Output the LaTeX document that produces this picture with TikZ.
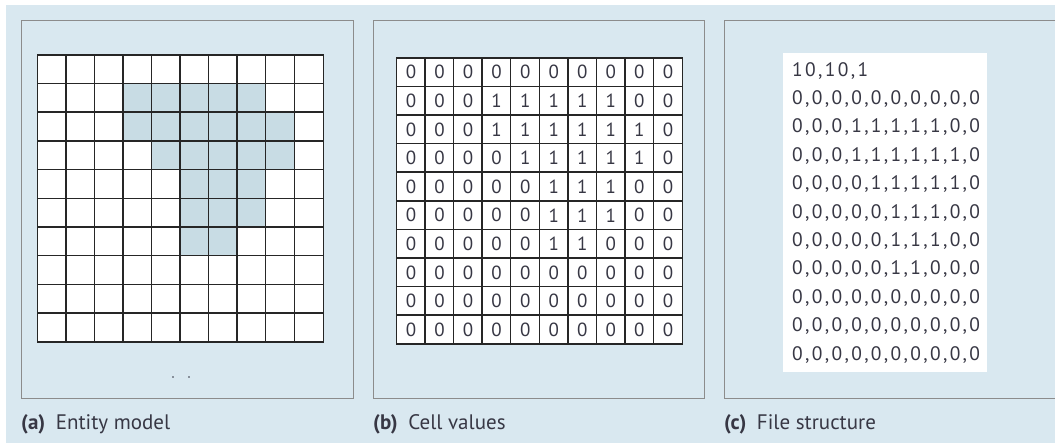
\documentclass[tikz,border=0pt]{standalone}
\usepackage{fontspec}
\setmainfont{PT Sans}
\newfontfamily\filefont[LetterSpace=12]{PT Sans}
\usepackage{tikz}
\definecolor{paneBack}{RGB}{217, 232, 240}
\definecolor{cellShade}{RGB}{200, 220, 228}
\definecolor{paneLine}{RGB}{140, 140, 140}
\definecolor{inkGrey}{RGB}{55, 55, 68}

\begin{document}
\begin{tikzpicture}[
    x=1pt, y=-1pt,
    panel/.style={draw=paneLine, line width=1pt, anchor=north west, inner sep=0pt},
    cellbox/.style={minimum size=28.6pt, inner sep=0pt,
        font=\fontsize{19}{19}\selectfont, text=inkGrey},
    gridline/.style={draw=black!85, line width=1.5pt, line cap=rect},
    v0/.style={fill=white},
    v1/.style={fill=cellShade},
    caption/.style={anchor=base west, inner sep=0pt, text=inkGrey, font=\fontsize{21}{21}\selectfont}
]
\useasboundingbox (0,0) rectangle (1055,443);
\fill[paneBack] (6,5) rectangle (1055,443);

% three panels
\node[panel, minimum width=332pt, minimum height=378pt] (boxA) at (21,20) {};
\node[panel, minimum width=331pt, minimum height=378pt] (boxB) at (373,20) {};
\node[panel, minimum width=340pt, minimum height=378pt] (boxC) at (724,20) {};

% (a) entity model and (b) cell values
\foreach \row [count=\r from 0] in {
    {0,0,0,0,0,0,0,0,0,0},
    {0,0,0,1,1,1,1,1,0,0},
    {0,0,0,1,1,1,1,1,1,0},
    {0,0,0,0,1,1,1,1,1,0},
    {0,0,0,0,0,1,1,1,0,0},
    {0,0,0,0,0,1,1,1,0,0},
    {0,0,0,0,0,1,1,0,0,0},
    {0,0,0,0,0,0,0,0,0,0},
    {0,0,0,0,0,0,0,0,0,0},
    {0,0,0,0,0,0,0,0,0,0}}
{
    \foreach \v [count=\c from 0] in \row {
        \node[cellbox, v\v] (a-\r-\c) at (51.8+28.55*\c, 69.3+28.7*\r) {};
        \node[cellbox, fill=white] (b-\r-\c) at (411+28.55*\c, 72.3+28.6*\r) {\v};
    }
}
% grid lines on top of the fills
\foreach \g in {a,b} {
    \foreach \i in {0,...,9} {
        \draw[gridline] (\g-\i-0.north west) -- (\g-\i-9.north east);
        \draw[gridline] (\g-0-\i.north west) -- (\g-9-\i.south west);
    }
    \draw[gridline] (\g-9-0.south west) -- (\g-9-9.south east);
    \draw[gridline] (\g-0-9.north east) -- (\g-9-9.south east);
}
\fill[inkGrey] (173,377) circle (0.9pt) (189,377) circle (0.9pt);

% (c) file structure
\node[fill=white, anchor=north west, inner xsep=9pt, inner ysep=0pt, text width=186pt,
    minimum height=319pt, align=left, text=inkGrey,
    font=\filefont\fontsize{19.5}{28.4}\selectfont] (file) at (783,53) {%
    10,10,1\\
    0,0,0,0,0,0,0,0,0,0\\
    0,0,0,1,1,1,1,1,0,0\\
    0,0,0,1,1,1,1,1,1,0\\
    0,0,0,0,1,1,1,1,1,0\\
    0,0,0,0,0,1,1,1,0,0\\
    0,0,0,0,0,1,1,1,0,0\\
    0,0,0,0,0,1,1,0,0,0\\
    0,0,0,0,0,0,0,0,0,0\\
    0,0,0,0,0,0,0,0,0,0\\
    0,0,0,0,0,0,0,0,0,0};

% captions
\node[caption] (capA) at (21,430) {\textbf{(a)}\enspace Entity model};
\node[caption] (capB) at (373,430) {\textbf{(b)}\enspace Cell values};
\node[caption] (capC) at (724,430) {\textbf{(c)}\enspace File structure};
\end{tikzpicture}
\end{document}
